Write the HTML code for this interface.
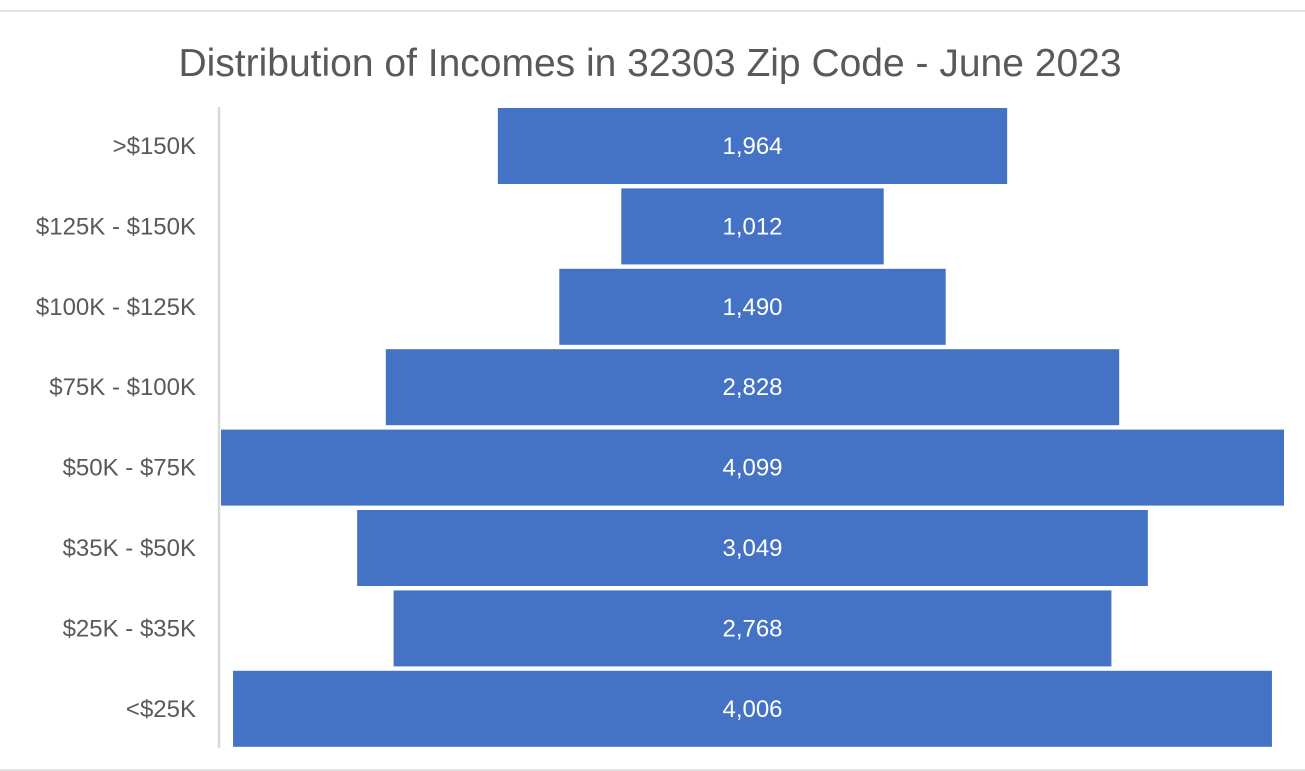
<!DOCTYPE html>
<html><head><meta charset="utf-8"><style>
body{margin:0;background:#fff;}
svg{display:block;font-family:"Liberation Sans",sans-serif;}
</style></head><body>
<svg id="chart" width="1305" height="771" viewBox="0 0 1305 771">
<line x1="0" y1="11" x2="1305" y2="11" stroke="#d9d9d9" stroke-width="1.5"/>
<line x1="0" y1="770" x2="1305" y2="770" stroke="#d9d9d9" stroke-width="1.5"/>
<text x="650" y="76" text-anchor="middle" font-size="39" fill="#595959">Distribution of Incomes in 32303 Zip Code - June 2023</text>
<line x1="219" y1="107" x2="219" y2="748" stroke="#d9d9d9" stroke-width="2.5"/>
<g id="bars"></g>
</svg>
<script>
const categories = [">$150K","$125K - $150K","$100K - $125K","$75K - $100K","$50K - $75K","$35K - $50K","$25K - $35K","<$25K"];
const values = [1964,1012,1490,2828,4099,3049,2768,4006];
const valueLabels = ["1,964","1,012","1,490","2,828","4,099","3,049","2,768","4,006"];
const NS="http://www.w3.org/2000/svg";
const g=document.getElementById('bars');
const cx=752.5, maxW=1063, maxV=Math.max(...values);
const top0=108, pitch=80.4, bh=76;
function xw(v){return v/maxV*maxW;}
function yb(i){return top0+i*pitch;}
categories.forEach((c,i)=>{
  const w=xw(values[i]), y=yb(i);
  const r=document.createElementNS(NS,'rect');
  r.setAttribute('x',cx-w/2);r.setAttribute('y',y);r.setAttribute('width',w);r.setAttribute('height',bh);
  r.setAttribute('fill','#4472C4');
  
  
  g.appendChild(r);
  const t=document.createElementNS(NS,'text');
  t.setAttribute('x',cx);t.setAttribute('y',y+bh/2+8);t.setAttribute('text-anchor','middle');
  t.setAttribute('font-size','24');t.setAttribute('fill','#fff');t.textContent=valueLabels[i];
  
  
  g.appendChild(t);
  const l=document.createElementNS(NS,'text');
  l.setAttribute('x',196);l.setAttribute('y',y+bh/2+8);l.setAttribute('text-anchor','end');
  l.setAttribute('font-size','24');l.setAttribute('fill','#595959');l.textContent=c;
  
  
  g.appendChild(l);
});
</script>
</body></html>
